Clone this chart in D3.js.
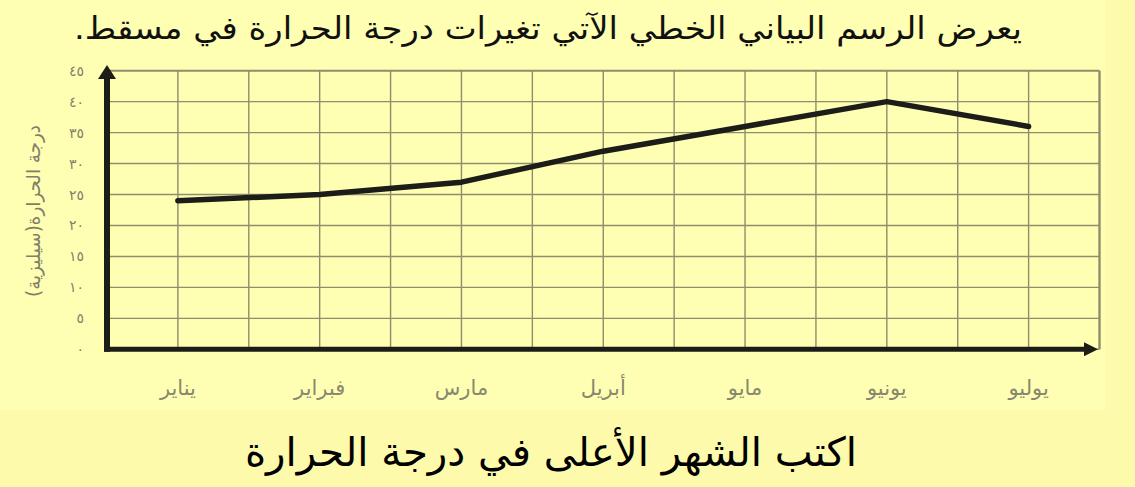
<!DOCTYPE html>
<html lang="ar">
<head>
<meta charset="utf-8">
<script src="https://cdn.jsdelivr.net/npm/d3@7"></script>
<style>
  html, body { margin: 0; padding: 0; background: #fdfbab; }
  svg { display: block; }
</style>
</head>
<body>
<svg id="chart" width="1135" height="487"></svg>
<script>
const months = ["يناير", "فبراير", "مارس", "أبريل", "مايو", "يونيو", "يوليو"];
const temps = [24, 25, 27, 32, 36, 40, 36];
const yTicks = [0, 5, 10, 15, 20, 25, 30, 35, 40, 45];
const yTickLabels = ["٠", "٥", "١٠", "١٥", "٢٠", "٢٥", "٣٠", "٣٥", "٤٠", "٤٥"];
const titleText = "يعرض الرسم البياني الخطي الآتي تغيرات درجة الحرارة في مسقط.";
const yTitle = "درجة الحرارة(سيليزية)";
const question = "اكتب الشهر الأعلى في درجة الحرارة";

const svg = d3.select("#chart");
const font = "'DejaVu Sans', 'Noto Sans', sans-serif";

// inner picture panel
svg.append("rect").attr("x", 0).attr("y", 0).attr("width", 1105).attr("height", 410).attr("fill", "#ffffb3");

const x = d3.scaleLinear().domain([0, 14]).range([107, 1099.5]);
const y = d3.scaleLinear().domain([0, 45]).range([349.3, 70.7]);
const mx = i => x(2 * i + 1);

const gridColor = "#8e8e6e";
const grid = svg.append("g");
grid.selectAll("line.v").data(d3.range(0, 15)).join("line")
  .attr("x1", d => x(d)).attr("x2", d => x(d))
  .attr("y1", y(45)).attr("y2", y(0))
  .attr("stroke", gridColor).attr("stroke-width", d => d === 14 ? 2.4 : 1.4);
grid.selectAll("line.h").data(yTicks).join("line")
  .attr("x1", x(0)).attr("x2", x(14))
  .attr("y1", d => y(d)).attr("y2", d => y(d))
  .attr("stroke", gridColor).attr("stroke-width", d => d === 45 ? 2 : 1.4);

// y tick labels via axis
const yAxis = d3.axisLeft(y).tickValues(yTicks)
  .tickFormat((d, i) => yTickLabels[i]).tickSize(0).tickPadding(0);
const ya = svg.append("g").attr("transform", "translate(84,0)").call(yAxis);
ya.select(".domain").remove();
ya.selectAll("text").attr("font-family", font).attr("font-size", 14)
  .attr("fill", "#80806a").attr("direction", "ltr");

// x labels
const xa = svg.append("g");
xa.selectAll("text").data(months).join("text")
  .attr("x", (d, i) => mx(i)).attr("y", 395)
  .attr("text-anchor", "middle").attr("font-family", font)
  .attr("font-size", 21).attr("fill", "#88886e").text(d => d);

// axes with arrows
const axisColor = "#1c1c18";
svg.append("line").attr("x1", x(0)).attr("x2", x(0)).attr("y1", y(0) + 2.5).attr("y2", 78)
  .attr("stroke", axisColor).attr("stroke-width", 6);
svg.append("path").attr("d", d3.line()([[x(0) - 9, 79], [x(0), 65], [x(0) + 9, 79]]) + "Z").attr("fill", axisColor);
svg.append("line").attr("x1", x(0) - 3).attr("x2", 1086).attr("y1", y(0)).attr("y2", y(0))
  .attr("stroke", axisColor).attr("stroke-width", 5);
svg.append("path").attr("d", d3.line()([[1084, y(0) - 7], [1098, y(0)], [1084, y(0) + 7]]) + "Z").attr("fill", axisColor);

// data line
const line = d3.line().x((d, i) => mx(i)).y(d => y(d));
svg.append("path").datum(temps).attr("d", line)
  .attr("fill", "none").attr("stroke", "#1c1c18").attr("stroke-width", 5.5)
  .attr("stroke-linecap", "round").attr("stroke-linejoin", "round");

// y title
svg.append("text").attr("transform", "translate(40,211) rotate(-90)")
  .attr("text-anchor", "middle").attr("font-family", font).attr("font-size", 19)
  .attr("textLength", 172).attr("lengthAdjust", "spacingAndGlyphs")
  .attr("fill", "#80806a").text(yTitle);

// title
svg.append("text").attr("x", 548).attr("y", 39).attr("text-anchor", "middle")
  .attr("font-family", font).attr("font-size", 31).attr("fill", "#111").attr("direction", "rtl")
  .attr("textLength", 948).attr("lengthAdjust", "spacingAndGlyphs")
  .text(titleText);

// question
svg.append("text").attr("x", 551).attr("y", 466).attr("text-anchor", "middle")
  .attr("font-family", font).attr("font-size", 40).attr("fill", "#000").attr("direction", "rtl")
  .attr("textLength", 612).attr("lengthAdjust", "spacingAndGlyphs")
  .text(question);
</script>
</body>
</html>
